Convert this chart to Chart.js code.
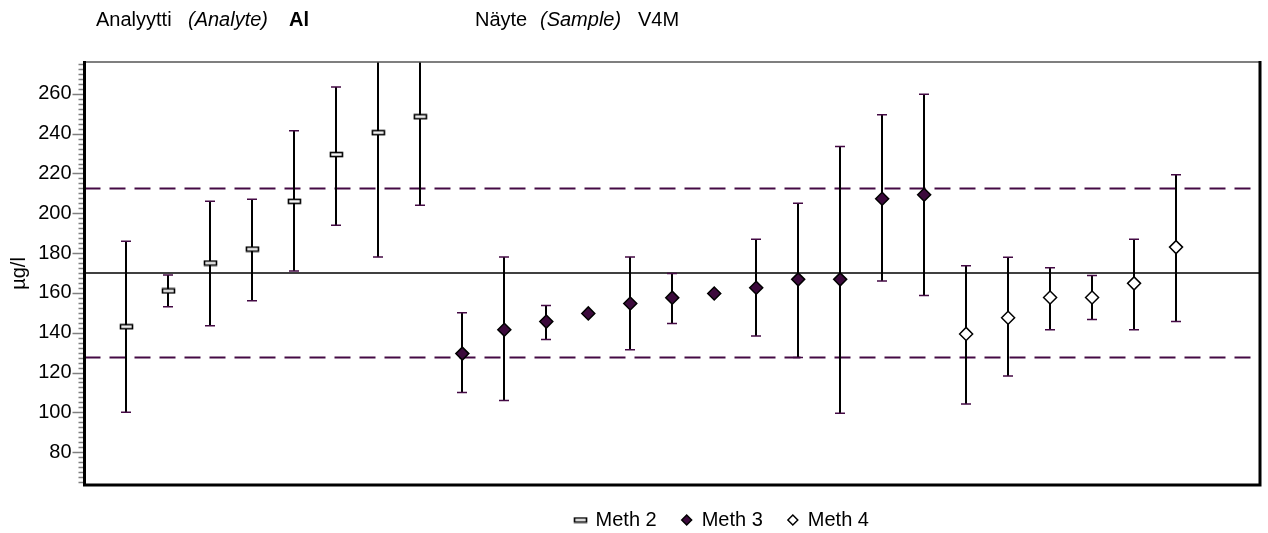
<!DOCTYPE html>
<html>
<head>
<meta charset="utf-8">
<script src="https://cdn.jsdelivr.net/npm/chart.js@4.4.1/dist/chart.umd.min.js"></script>
<style>
  html, body { margin: 0; padding: 0; background: #ffffff; }
  #wrap { position: relative; width: 1268px; height: 533px; }
</style>
</head>
<body>
<div id="wrap"><canvas id="chart" width="1268" height="533"></canvas></div>
<script>
// Laboratory results for aluminium in sample V4M, grouped by method.
// Each lab occupies one slot along the x axis.
const meth2Slots  = [1, 2, 3, 4, 5, 6, 7, 8];
const meth2Values = [143, 161, 175, 182, 206, 229.5, 240.5, 248.5];
const meth2Low    = [100, 153, 143.5, 156, 171, 194, 178, 204];
const meth2High   = [186, 169, 206, 207, 241.5, 263.5, 303, 293];

const meth3Slots  = [9, 10, 11, 12, 13, 14, 15, 16, 17, 18, 19, 20];
const meth3Values = [129.5, 141.5, 145.6, 149.7, 154.7, 157.6, 159.7, 162.6, 166.8, 166.8, 207.3, 209.3];
const meth3Low    = [110, 106, 136.6, null, 131.5, 144.6, null, 138.4, 127.5, 99.5, 166, 158.7];
const meth3High   = [150, 178, 153.7, null, 178, 169.7, null, 187, 205, 233.5, 249.5, 259.8];

const meth4Slots  = [21, 22, 23, 24, 25, 26];
const meth4Values = [139.4, 147.5, 157.7, 157.7, 164.8, 183];
const meth4Low    = [104.2, 118.3, 141.5, 146.7, 141.5, 145.6];
const meth4High   = [173.7, 177.9, 172.7, 168.8, 187, 219.3];

// Assigned value and the acceptance limits around it
const assignedValue = 170;
const lowerLimit = 127.5;
const upperLimit = 212.5;

const yTickLabels = [80, 100, 120, 140, 160, 180, 200, 220, 240, 260];
const slotCount = 28;

const PURPLE = '#440a44';
const FONT = '"Liberation Sans", Arial, sans-serif';

function pts(xs, ys) { return xs.map((x, i) => ({ x, y: ys[i] })); }

// Small open rectangle used as the "Meth 2" marker
function rectMarker() {
  const c = document.createElement('canvas');
  c.width = 15; c.height = 7;
  const g = c.getContext('2d');
  g.fillStyle = '#ffffff';
  g.fillRect(1, 1, 13, 5);
  g.strokeStyle = '#000000';
  g.lineWidth = 1.6;
  g.strokeRect(1.5, 1.5, 12, 4);
  return c;
}

function refLine(value, dashed) {
  return {
    type: 'line',
    label: '',
    data: [{ x: 0, y: value }, { x: slotCount, y: value }],
    borderColor: dashed ? PURPLE : '#000000',
    borderWidth: dashed ? 2 : 1.5,
    borderDash: dashed ? [16, 9] : [],
    pointRadius: 0,
    order: 1,
    isRef: true
  };
}

// Vertical uncertainty bars with short caps, drawn just before each marker set
const errorBars = {
  id: 'errorBars',
  beforeDatasetDraw(chart, args) {
    const ds = chart.data.datasets[args.index];
    if (!ds.errLow) return;
    const { ctx, chartArea: a, scales: { x, y } } = chart;
    ctx.save();
    ctx.beginPath();
    ctx.rect(a.left, a.top, a.right - a.left, a.bottom - a.top);
    ctx.clip();
    ds.data.forEach((p, i) => {
      const lo = ds.errLow[i], hi = ds.errHigh[i];
      if (lo == null || hi == null) return;
      const px = Math.round(x.getPixelForValue(p.x));
      const yl = y.getPixelForValue(lo), yh = y.getPixelForValue(hi);
      ctx.strokeStyle = '#000000';
      ctx.lineWidth = 2;
      ctx.beginPath();
      ctx.moveTo(px, yl); ctx.lineTo(px, yh);
      ctx.stroke();
      ctx.strokeStyle = PURPLE;
      ctx.lineWidth = 1.5;
      ctx.beginPath();
      ctx.moveTo(px - 5, yl); ctx.lineTo(px + 5, yl);
      ctx.moveTo(px - 5, yh); ctx.lineTo(px + 5, yh);
      ctx.stroke();
    });
    ctx.restore();
  }
};

// Frame of the plot area and the tick marks of the value axis
const frame = {
  id: 'frame',
  afterDatasetsDraw(chart) {
    const { ctx, chartArea: a, scales: { y } } = chart;
    ctx.save();
    ctx.strokeStyle = '#808080';
    ctx.lineWidth = 1.5;
    ctx.beginPath();
    for (let v = 65; v <= 276; v += 2.5) {
      const py = Math.round(y.getPixelForValue(v)) + 0.5;
      const major = yTickLabels.includes(v);
      ctx.moveTo(a.left - (major ? 12 : 6), py);
      ctx.lineTo(a.left, py);
    }
    ctx.stroke();
    ctx.strokeStyle = '#555555';
    ctx.lineWidth = 1.5;
    ctx.beginPath();
    ctx.moveTo(a.left, a.top); ctx.lineTo(a.right, a.top);
    ctx.stroke();
    ctx.strokeStyle = '#000000';
    ctx.lineWidth = 3;
    ctx.beginPath();
    ctx.moveTo(a.left, a.top - 1); ctx.lineTo(a.left, a.bottom);
    ctx.lineTo(a.right, a.bottom); ctx.lineTo(a.right, a.top - 1);
    ctx.stroke();
    ctx.restore();
  }
};

// Header line: analyte and sample identifiers
const header = {
  id: 'header',
  afterDraw(chart) {
    const ctx = chart.ctx;
    const parts = [
      { t: 'Analyytti', x: 96, s: '' },
      { t: '(Analyte)', x: 188, s: 'italic ' },
      { t: 'Al', x: 289, s: 'bold ' },
      { t: 'Näyte', x: 475, s: '' },
      { t: '(Sample)', x: 540, s: 'italic ' },
      { t: 'V4M', x: 638, s: '' }
    ];
    ctx.save();
    ctx.fillStyle = '#000000';
    ctx.textBaseline = 'alphabetic';
    parts.forEach(p => {
      ctx.font = p.s + '20px ' + FONT;
      ctx.fillText(p.t, p.x, 26);
    });
    ctx.restore();
  }
};

// The legend row sits right of centre, under the middle of the plot
const legendShift = {
  id: 'legendShift',
  afterLayout(chart) {
    if (chart.legend) {
      chart.legend.left += 91;
      chart.legend.right += 91;
    }
  }
};

new Chart(document.getElementById('chart'), {
  type: 'scatter',
  data: {
    datasets: [
      {
        label: 'Meth 2',
        data: pts(meth2Slots, meth2Values),
        errLow: meth2Low, errHigh: meth2High,
        pointStyle: rectMarker(),
        order: 0
      },
      {
        label: 'Meth 3',
        data: pts(meth3Slots, meth3Values),
        errLow: meth3Low, errHigh: meth3High,
        pointStyle: 'rectRot',
        pointRadius: 6.5,
        backgroundColor: '#3c0a3c',
        borderColor: '#000000',
        borderWidth: 1.5,
        order: 0
      },
      {
        label: 'Meth 4',
        data: pts(meth4Slots, meth4Values),
        errLow: meth4Low, errHigh: meth4High,
        pointStyle: 'rectRot',
        pointRadius: 6.5,
        backgroundColor: '#ffffff',
        borderColor: '#000000',
        borderWidth: 1.5,
        order: 0
      },
      refLine(upperLimit, true),
      refLine(lowerLimit, true),
      refLine(assignedValue, false)
    ]
  },
  options: {
    responsive: false,
    animation: false,
    events: [],
    layout: { padding: { top: 62, right: 5.5, left: 0, bottom: 0 } },
    scales: {
      x: {
        type: 'linear',
        min: 0,
        max: slotCount,
        display: false
      },
      y: {
        type: 'linear',
        min: 63.5,
        max: 276,
        afterFit(scale) { scale.width = 84.5; },
        afterBuildTicks(scale) {
          scale.ticks = yTickLabels.map(v => ({ value: v }));
        },
        grid: { display: false, drawTicks: false },
        border: { display: false },
        ticks: {
          padding: 13,
          color: '#000000',
          font: { family: FONT, size: 20 }
        },
        title: {
          display: true,
          text: 'µg/l',
          color: '#000000',
          font: { family: FONT, size: 20 },
          padding: { top: 7, bottom: 0 }
        }
      }
    },
    plugins: {
      legend: {
        position: 'bottom',
        maxHeight: 48,
        labels: {
          usePointStyle: true,
          boxWidth: 10,
          boxHeight: 7,
          padding: 25,
          color: '#000000',
          font: { family: FONT, size: 20 },
          filter: (item, data) => !data.datasets[item.datasetIndex].isRef
        }
      },
      tooltip: { enabled: false }
    }
  },
  plugins: [errorBars, frame, header, legendShift]
});
</script>
</body>
</html>
